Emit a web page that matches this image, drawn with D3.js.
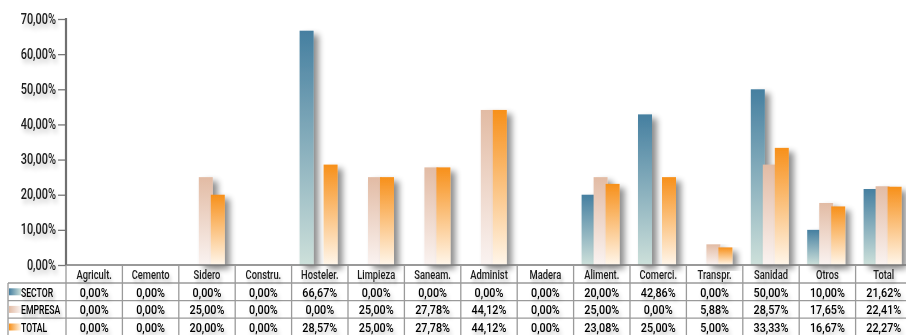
<!DOCTYPE html>
<html><head><meta charset="utf-8">
<script src="https://cdn.jsdelivr.net/npm/d3@7"></script>
<style>
html,body{margin:0;padding:0;background:#fff;overflow:hidden}
text{font-family:Roboto,"Liberation Sans",sans-serif;font-weight:500}
</style></head>
<body><svg id="c" width="906" height="335"></svg>
<script>
const categories = ["Agricult.","Cemento","Sidero","Constru.","Hosteler.","Limpieza","Saneam.","Administ","Madera","Aliment.","Comerci.","Transpr.","Sanidad","Otros","Total"];
const seriesNames = ["SECTOR","EMPRESA","TOTAL"];
const sector  = [0,0,0,0,66.67,0,0,0,0,20,42.86,0,50,10,21.62];
const empresa = [0,0,25,0,0,25,27.78,44.12,0,25,0,5.88,28.57,17.65,22.41];
const total   = [0,0,20,0,28.57,25,27.78,44.12,0,23.08,25,5,33.33,16.67,22.27];
const yTicks  = [0,10,20,30,40,50,60,70];

const seriesValues = [sector, empresa, total];
const gradStops = [["#457fa0","#cde0da"],["#e2bba4","#faf3f1"],["#f7901a","#fff6ea"]];

const svg = d3.select("#c");
const defs = svg.append("defs");
const sh = defs.append("filter").attr("id","sh").attr("x","-50%").attr("y","-20%").attr("width","250%").attr("height","150%");
sh.append("feGaussianBlur").attr("in","SourceAlpha").attr("stdDeviation",3).attr("result","b");
sh.append("feOffset").attr("in","b").attr("dx",5).attr("dy",4).attr("result","o");
sh.append("feComponentTransfer").attr("in","o").attr("result","o2").append("feFuncA").attr("type","linear").attr("slope",0.45);
const m1 = sh.append("feMerge"); m1.append("feMergeNode").attr("in","o2"); m1.append("feMergeNode").attr("in","SourceGraphic");

const ts = defs.append("filter").attr("id","ts").attr("x","-20%").attr("y","-60%").attr("width","150%").attr("height","280%");
ts.append("feGaussianBlur").attr("in","SourceAlpha").attr("stdDeviation",2.5).attr("result","b");
ts.append("feOffset").attr("in","b").attr("dx",3).attr("dy",4).attr("result","o");
ts.append("feComponentTransfer").attr("in","o").attr("result","o2").append("feFuncA").attr("type","linear").attr("slope",0.25);
const m2 = ts.append("feMerge"); m2.append("feMergeNode").attr("in","o2"); m2.append("feMergeNode").attr("in","SourceGraphic");

gradStops.forEach((g,i)=>{
  const lg = defs.append("linearGradient").attr("id","g"+i).attr("x1",0).attr("y1",0).attr("x2",0).attr("y2",1);
  lg.append("stop").attr("offset","0%").attr("stop-color",g[0]);
  lg.append("stop").attr("offset","100%").attr("stop-color",g[1]);
  const lh = defs.append("linearGradient").attr("id","h"+i).attr("x1",0).attr("y1",0).attr("x2",1).attr("y2",0);
  lh.append("stop").attr("offset","0%").attr("stop-color",g[0]);
  lh.append("stop").attr("offset","100%").attr("stop-color",g[1]);
});

const pL = 66, pT = 19, pB = 265, colW = 56.4;
const x = d3.scaleBand().domain(categories).range([pL, pL + colW*categories.length]).padding(0);
const xs = d3.scaleBand().domain(seriesNames).range([8, 44]).padding(0);
const y = d3.scaleLinear().domain([0,70]).range([pB, pT]);
const pR = 906;

function label(g, tx, ty, txt, size, sx, anchor, fill){
  return g.append("text").attr("transform",`translate(${tx},${ty}) scale(${sx},1)`)
    .attr("text-anchor",anchor).attr("font-size",size).attr("fill",fill||"#111")
    .attr("filter","url(#ts)").text(txt);
}

// gridlines
const grid = svg.append("g");
grid.selectAll("line").data(yTicks.filter(d=>d>0)).join("line")
  .attr("x1",pL).attr("x2",pR).attr("y1",d=>y(d)).attr("y2",d=>y(d))
  .attr("stroke","#8a8a8a").attr("stroke-width",1.6).attr("filter","url(#ts)");

// y axis
const fmt = v=>v.toFixed(2).replace(".",",")+"%";
const yAxis = d3.axisLeft(y).tickValues(yTicks).tickSize(8).tickFormat(()=>"");
const ya = svg.append("g").attr("transform",`translate(${pL},0)`).call(yAxis);
ya.select(".domain").remove();
ya.selectAll(".tick line").attr("stroke","#777").attr("stroke-width",1.3);
const yl = svg.append("g");
yTicks.forEach(t=>label(yl, 56, y(t)+4.5, fmt(t), 14, 0.78, "end", "#1a1a1a"));
svg.append("line").attr("x1",pL).attr("x2",pL).attr("y1",pT-1).attr("y2",pB)
  .attr("stroke","#707070").attr("stroke-width",2.2);

// bars
seriesNames.forEach((s,i)=>{
  svg.append("g").selectAll("rect").data(categories.map((c,k)=>({c,v:seriesValues[i][k]})).filter(d=>d.v>0)).join("rect")
    .attr("x",d=>x(d.c)+xs(s)).attr("width",xs.bandwidth()+2)
    .attr("y",d=>y(d.v)).attr("height",d=>pB-y(d.v))
    .attr("fill",`url(#g${i})`).attr("filter","url(#sh)");
});

// table
const rowH = 17.6, headH = 18;
const tbl = svg.append("g");
const lc = "#9a9a9a";
tbl.append("line").attr("x1",pL).attr("x2",pR).attr("y1",pB).attr("y2",pB).attr("stroke","#777").attr("stroke-width",1.6);
for(let r=0;r<3;r++){
  const yy = pB+headH+r*rowH;
  tbl.append("line").attr("x1",8).attr("x2",pR).attr("y1",yy).attr("y2",yy).attr("stroke",lc).attr("stroke-width",1.3);
}
tbl.append("line").attr("x1",8).attr("x2",8).attr("y1",pB+headH).attr("y2",335).attr("stroke",lc).attr("stroke-width",1.3);
categories.forEach(c=>{
  tbl.append("line").attr("x1",x(c)+colW).attr("x2",x(c)+colW).attr("y1",pB).attr("y2",335).attr("stroke",lc).attr("stroke-width",1.3);
});
tbl.append("line").attr("x1",pL).attr("x2",pL).attr("y1",pB).attr("y2",335).attr("stroke",lc).attr("stroke-width",1.3);

const hg = tbl.append("g");
categories.forEach(c=>label(hg, x(c)+colW/2, pB+14, c, 13, 0.72, "middle", "#1a1a1a"));

seriesNames.forEach((s,i)=>{
  const ry = pB+headH+i*rowH;
  tbl.append("rect").attr("x",9).attr("y",ry+rowH/2-3.5).attr("width",12).attr("height",7).attr("fill",`url(#h${i})`);
  label(tbl, 21, ry+13.8, s, 13.5, 0.64, "start", "#000");
  const vg = tbl.append("g");
  categories.forEach((c,k)=>label(vg, x(c)+colW/2, ry+13.8, fmt(seriesValues[i][k]), 13.5, 0.8, "middle", "#000"));
});
</script></body></html>
